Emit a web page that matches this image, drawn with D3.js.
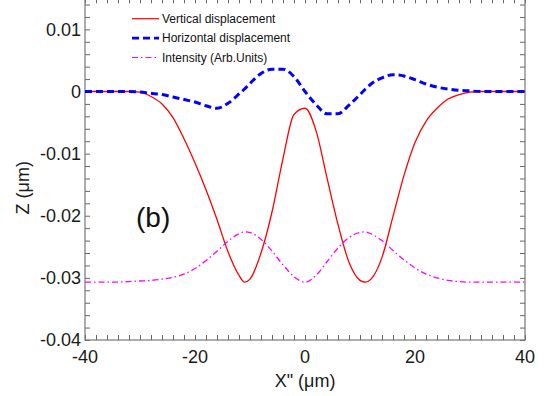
<!DOCTYPE html>
<html>
<head>
<meta charset="utf-8">
<script src="https://cdn.jsdelivr.net/npm/d3@7"></script>
<style>
  body { margin: 0; background: #fff; }
  svg { display: block; font-family: "Liberation Sans", Arial, sans-serif; }
</style>
</head>
<body>
<svg id="chart"></svg>
<script>
const xs = [-40, -36, -32, -30, -28, -26, -24, -22, -20, -18, -16, -14, -12, -11, -10, -8, -6, -4, -2, 0,
            2, 4, 6, 8, 10, 11, 12, 14, 16, 18, 20, 22, 24, 26, 28, 30, 32, 36, 40];

const vertical = [0, 0, 0, -0.0001, -0.0008, -0.0020, -0.0042, -0.0076, -0.0115, -0.0158, -0.0206, -0.0258, -0.0296, -0.0307, -0.0302, -0.0260, -0.0194, -0.0108, -0.0037, -0.0027,
                  -0.0063, -0.0139, -0.0214, -0.0275, -0.0304, -0.0307, -0.0302, -0.0267, -0.0201, -0.0135, -0.0082, -0.0048, -0.0027, -0.0012, -0.0005, -0.0001, 0, 0, 0];

const horizontal = [0, 0, 0, -0.0001, -0.0003, -0.0005, -0.0009, -0.0013, -0.0017, -0.0023, -0.0027, -0.0019, -0.0004, 0.0004, 0.0013, 0.0029, 0.0036, 0.0036, 0.0024, 0,
                    -0.0021, -0.0036, -0.0036, -0.0022, -0.0005, 0.0004, 0.0012, 0.0022, 0.0027, 0.0025, 0.0019, 0.0012, 0.0007, 0.0004, 0.0002, 0.0001, 0, 0, 0];

const intensity = [-0.0307, -0.0307, -0.0306, -0.0305, -0.0304, -0.0302, -0.0299, -0.0294, -0.0285, -0.0272, -0.0257, -0.0241, -0.0229, -0.0226, -0.0227, -0.0238, -0.0257, -0.0279, -0.0298, -0.0307,
                   -0.0296, -0.0274, -0.0252, -0.0235, -0.0227, -0.0226, -0.0229, -0.0240, -0.0256, -0.0271, -0.0284, -0.0294, -0.0300, -0.0304, -0.0306, -0.0307, -0.0307, -0.0307, -0.0307];

const xTickLabels = [-40, -20, 0, 20, 40];
const yTickLabels = [0.01, 0, -0.01, -0.02, -0.03, -0.04];

const seriesNames = ["Vertical displacement", "Horizontal displacement", "Intensity (Arb.Units)"];

const width = 544, height = 396;
const plot = { left: 85, right: 525, top: -1.7, bottom: 340 };

const svg = d3.select("#chart").attr("width", width).attr("height", height);

const x = d3.scaleLinear().domain([-40, 40]).range([plot.left, plot.right]);
const y = d3.scaleLinear().domain([-0.04, 0.015]).range([plot.bottom, plot.top]);

const series = [
    { name: seriesNames[0], values: vertical, color: "#ff0000", width: 1.3, dash: null },
    { name: seriesNames[1], values: horizontal, color: "#0000ff", width: 3, dash: "7,4" },
    { name: seriesNames[2], values: intensity, color: "#ff00ff", width: 1.3, dash: "6,3,1.5,3" }
];

// minor ticks, all four sides, pointing inward
const xMinor = d3.range(-40, 40.001, 2);
const yMinor = d3.range(-0.04, 0.0141, 0.002);
const tickColor = "#666";

const axes = svg.append("g");
axes.append("g")
    .attr("transform", `translate(0,${plot.bottom})`)
    .call(d3.axisBottom(x).tickValues(xMinor).tickSize(-5).tickFormat(""));
axes.append("g")
    .attr("transform", `translate(0,${plot.top})`)
    .call(d3.axisTop(x).tickValues(xMinor).tickSize(-5).tickFormat(""));
axes.append("g")
    .attr("transform", `translate(${plot.left},0)`)
    .call(d3.axisLeft(y).tickValues(yMinor).tickSize(-5).tickFormat(""));
axes.append("g")
    .attr("transform", `translate(${plot.right},0)`)
    .call(d3.axisRight(y).tickValues(yMinor).tickSize(-5).tickFormat(""));
axes.selectAll("path.domain").remove();
axes.selectAll(".tick line").attr("stroke", tickColor);

svg.append("rect")
    .attr("x", plot.left).attr("y", plot.top)
    .attr("width", plot.right - plot.left).attr("height", plot.bottom - plot.top)
    .attr("fill", "none").attr("stroke", "#777").attr("stroke-width", 1.2);

// tick labels
const labels = svg.append("g").attr("fill", "#1a1a1a").attr("font-size", 18);
labels.selectAll("text.xl")
    .data(xTickLabels)
    .join("text")
    .attr("class", "xl")
    .attr("x", d => x(d))
    .attr("y", plot.bottom + 23)
    .attr("text-anchor", "middle")
    .text(d => String(d));
labels.selectAll("text.yl")
    .data(yTickLabels)
    .join("text")
    .attr("class", "yl")
    .attr("x", plot.left - 4)
    .attr("y", d => y(d))
    .attr("dy", "0.36em")
    .attr("text-anchor", "end")
    .text(d => d === 0 ? "0" : String(+d.toFixed(2)));

// axis titles
svg.append("text")
    .attr("x", x(0)).attr("y", 387)
    .attr("text-anchor", "middle")
    .attr("font-size", 18).attr("fill", "#1a1a1a")
    .text("X\" (\u03bcm)");
svg.append("text")
    .attr("transform", `translate(29,${y(-0.0155)}) rotate(-90)`)
    .attr("text-anchor", "middle")
    .attr("font-size", 18).attr("fill", "#1a1a1a")
    .text("Z (\u03bcm)");

// curves
const line = d3.line()
    .x((d, i) => x(xs[i]))
    .y(d => y(d))
    .curve(d3.curveMonotoneX);

svg.append("g").selectAll("path")
    .data(series)
    .join("path")
    .attr("d", s => line(s.values))
    .attr("fill", "none")
    .attr("stroke", s => s.color)
    .attr("stroke-width", s => s.width)
    .attr("stroke-dasharray", s => s.dash);

// legend
const legend = svg.append("g").attr("transform", "translate(132,18.7)");
const rows = legend.selectAll("g")
    .data(series)
    .join("g")
    .attr("transform", (s, i) => `translate(0,${i * 19.4})`);
rows.append("line")
    .attr("x1", 0).attr("x2", 27)
    .attr("stroke", s => s.color)
    .attr("stroke-width", s => s.width === 3 ? 2.6 : 1.2)
    .attr("stroke-dasharray", s => s.dash);
rows.append("text")
    .attr("x", 30)
    .attr("dy", "0.36em")
    .attr("font-size", 12)
    .attr("fill", "#111")
    .text(s => s.name);

// panel label
svg.append("text")
    .attr("x", 136).attr("y", 227)
    .attr("font-size", 28).attr("fill", "#111")
    .text("(b)");
</script>
</body>
</html>
